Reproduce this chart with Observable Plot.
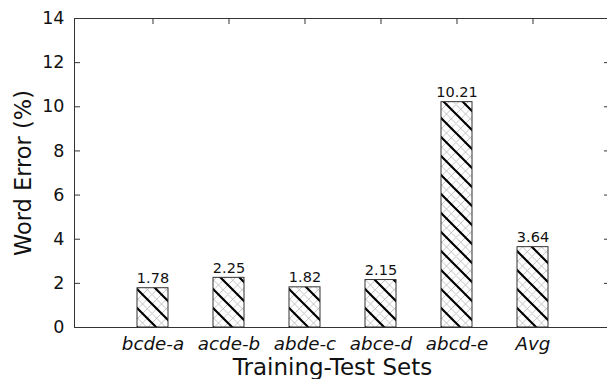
<!DOCTYPE html>
<html>
<head>
<meta charset="utf-8">
<script src="https://cdn.jsdelivr.net/npm/d3@7"></script>
<script src="https://cdn.jsdelivr.net/npm/@observablehq/plot@0.6"></script>
<style>
  html, body { margin: 0; padding: 0; background: #fff; overflow: hidden; }
  svg { display: block; }
</style>
</head>
<body>
<div id="chart"></div>
<script>
const categories = ["bcde-a", "acde-b", "abde-c", "abce-d", "abcd-e", "Avg"];
const values = [1.78, 2.25, 1.82, 2.15, 10.21, 3.64];
const valueLabels = ["1.78", "2.25", "1.82", "2.15", "10.21", "3.64"];
const yTicks = [0, 2, 4, 6, 8, 10, 12, 14];
const xTitle = "Training-Test Sets";
const yTitle = "Word Error (%)";

const data = categories.map((c, i) => ({set: c, err: values[i], label: valueLabels[i]}));

const W = 607, H = 379, ML = 74, MR = -3, MT = 18, MB = 52;
const plotW = W - ML - MR, plotH = H - MT - MB;
const axisColor = "#333";

const chart = Plot.plot({
  width: W, height: H,
  marginLeft: ML, marginRight: MR, marginTop: MT, marginBottom: MB,
  style: {fontFamily: "'DejaVu Sans', sans-serif", background: "white", color: "#111", overflow: "hidden"},
  x: {domain: categories, paddingInner: 0.595, paddingOuter: 0.7976, align: 0.5, axis: null},
  y: {domain: [0, 14], axis: null},
  marks: [
    // inward tick marks
    Plot.tickY(yTicks, {y: d => d, insetRight: plotW - 6, stroke: axisColor}),
    Plot.tickY(yTicks, {y: d => d, insetLeft: plotW - 6, stroke: axisColor}),
    Plot.tickX(categories, {x: d => d, insetBottom: plotH - 6, stroke: axisColor}),
    // bars
    Plot.barY(data, {x: "set", y: "err", fill: "url(#hatch)", stroke: axisColor, strokeWidth: 1}),
    Plot.frame({stroke: axisColor, strokeWidth: 1}),
    // value labels
    Plot.text(data, {x: "set", y: "err", text: "label", lineAnchor: "bottom", dy: -5, fontSize: 14.5, fill: "#111"}),
    // tick labels
    Plot.text(yTicks, {y: d => d, text: d => String(d), frameAnchor: "left", textAnchor: "end", dx: -10, fontSize: 17.5, fill: "#111"}),
    Plot.text(categories, {x: d => d, text: d => d, frameAnchor: "bottom", lineAnchor: "bottom", dy: 22, fontSize: 18.3, fontStyle: "italic", fill: "#111"}),
    // axis titles
    Plot.text([xTitle], {text: d => d, frameAnchor: "bottom", textAnchor: "middle", lineAnchor: "bottom", dy: 47, dx: -10, fontSize: 23, fill: "#111"}),
    Plot.text([yTitle], {text: d => d, frameAnchor: "left", textAnchor: "middle", rotate: -90, lineAnchor: "bottom", dx: -44, fontSize: 22.5, fill: "#111"})
  ]
});

// hatch pattern definition
const ns = "http://www.w3.org/2000/svg";
const defs = document.createElementNS(ns, "defs");
const s = 19, h = s / 2;
defs.innerHTML = `
<pattern id="hatch" patternUnits="userSpaceOnUse" width="${s}" height="${s}">
  <rect x="0" y="0" width="${s}" height="${s}" fill="white"/>
  <path d="M0,${h}L${h},${s} M${h},0L${s},${h} M0,${s}L${s},0 M0,${h}L${h},0 M${h},${s}L${s},${h} M-1,1L1,-1 M${s-1},${s+1}L${s+1},${s-1}"
        stroke="#b8b8b8" stroke-width="0.8" fill="none"/>
  <path d="M-1,-1L${s+1},${s+1} M-2,${s-2}L2,${s+2} M${s-2},-2L${s+2},2"
        stroke="black" stroke-width="2.2" fill="none"/>
</pattern>`;
chart.insertBefore(defs, chart.firstChild);

document.getElementById("chart").appendChild(chart);
</script>
</body>
</html>
